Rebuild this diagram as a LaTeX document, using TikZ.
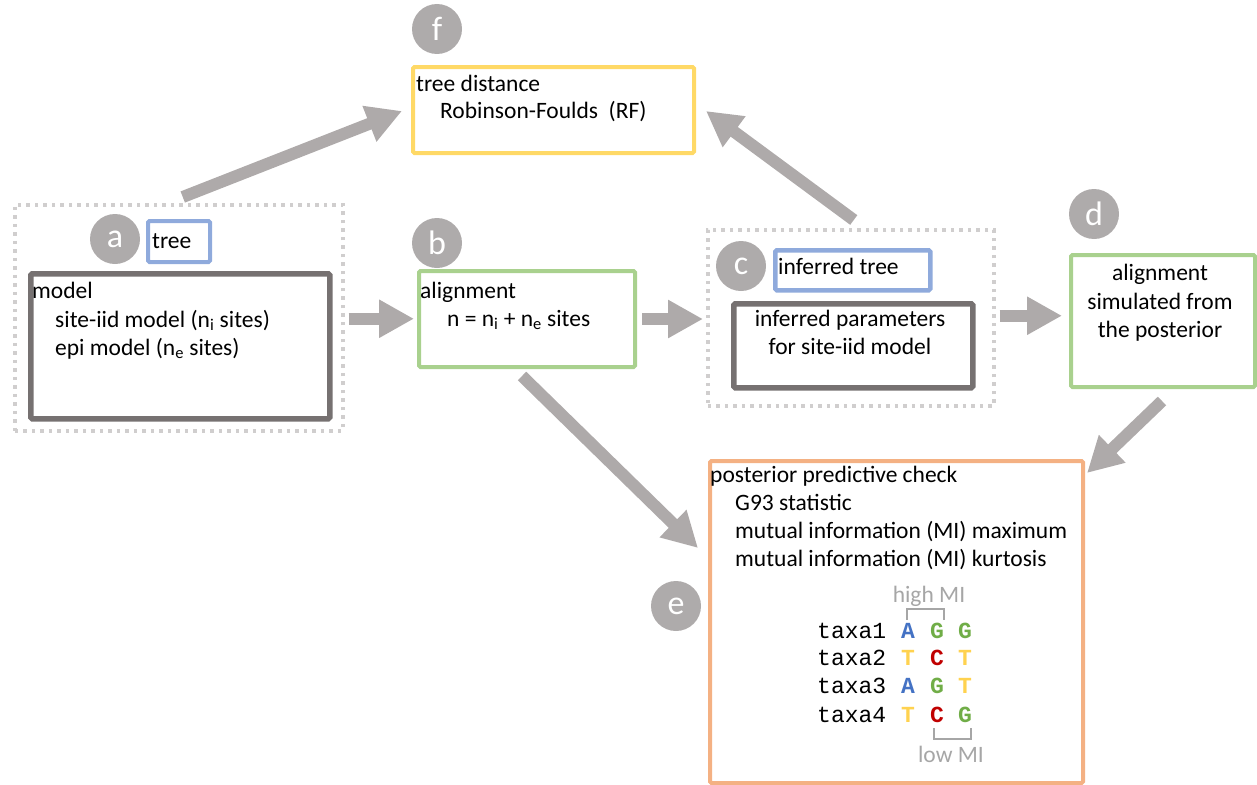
\documentclass[tikz,border=0pt]{standalone}
\usepackage{fontspec}
\setmainfont{Carlito}
\newfontfamily\monofam{Liberation Mono}
\usetikzlibrary{arrows.meta}
\definecolor{arrowgray}{HTML}{AEAAAA}
\definecolor{circgray}{HTML}{AEABAB}
\definecolor{yelbox}{HTML}{FFD966}
\definecolor{bluebox}{HTML}{8FAADC}
\definecolor{greenbox}{HTML}{A9D18E}
\definecolor{darkbox}{HTML}{767171}
\definecolor{orangebox}{HTML}{F4B183}
\definecolor{dotgray}{HTML}{D0CECE}
\definecolor{labgray}{HTML}{A6A6A6}
\definecolor{nucA}{HTML}{4472C4}
\definecolor{nucG}{HTML}{70AD47}
\definecolor{nucT}{HTML}{FFD24F}
\definecolor{nucC}{HTML}{C00000}
\tikzset{
  box/.style={draw, rectangle, rounded corners=1.5pt, inner sep=0pt, anchor=north west},
  dotbox/.style={draw=dotgray, line width=3.5pt, dash pattern=on 3.5pt off 5pt, rectangle, inner sep=0pt, anchor=north west},
  txt/.style={inner sep=0pt, font=\fontsize{23.5}{28}\selectfont},
  ctxt/.style={inner sep=0pt, font=\fontsize{23.5}{28.5}\selectfont, align=center},
  mono/.style={inner sep=0pt, font=\fontsize{23}{28}\selectfont\monofam},
  nuc/.style={inner sep=0pt, font=\fontsize{23}{28}\selectfont\monofam\bfseries, anchor=base},
  lab/.style={circle, fill=circgray, minimum size=50pt, inner sep=0pt, text=white, font=\fontsize{34}{34}\selectfont},
  bigarrow/.style={draw=arrowgray, line width=12pt, -{Triangle[length=35pt,width=36pt]}},
  bracket/.style={draw=labgray, line width=1.3pt}
}
\begin{document}
\begin{tikzpicture}[x=1pt,y=-1pt]
\useasboundingbox (0,0) rectangle (1257,784);

% boxes
\node[box, draw=yelbox, line width=4pt, minimum width=281pt, minimum height=86pt] (tdist) at (411,65) {};
\node[dotbox, minimum width=328pt, minimum height=226pt] (abox) at (13,203) {};
\node[box, draw=bluebox, line width=4pt, minimum width=62pt, minimum height=41pt] (atree) at (146,219) {};
\node[box, draw=darkbox, line width=5.5pt, minimum width=299pt, minimum height=145pt] (model) at (28,271) {};
\node[box, draw=greenbox, line width=4pt, minimum width=216pt, minimum height=96pt] (align) at (417,269) {};
\node[dotbox, minimum width=286pt, minimum height=176pt] (cbox) at (706,228) {};
\node[box, draw=bluebox, line width=4.5pt, minimum width=155pt, minimum height=40pt] (ctree) at (773,248) {};
\node[box, draw=darkbox, line width=5.5pt, minimum width=239pt, minimum height=84pt] (params) at (731,301) {};
\node[box, draw=greenbox, line width=4pt, minimum width=184pt, minimum height=132pt] (dbox) at (1069,253) {};
\node[box, draw=orangebox, line width=4pt, minimum width=373pt, minimum height=322pt] (ppc) at (708,459) {};

% circle labels
\node[lab] (lf) at (437,29) {f};
\node[lab] (la) at (115,239) {a};
\node[lab] (lb) at (437,243) {b};
\node[lab] (lc) at (741,266) {c};
\node[lab] (ld) at (1094,214) {d};
\node[lab] (le) at (676,606) {e};

% texts
\node[txt, anchor=base west] (t1) at (416,91) {tree distance};
\node[txt, anchor=base west] (t2) at (440,118) {Robinson-Foulds\ \ (RF)};
\node[txt, anchor=base west] (t3) at (152,248) {tree};
\node[txt, anchor=base west] (t4) at (32,298) {model};
\node[txt, anchor=base west] (t5) at (55,327) {site-iid model (n\textsubscript{i} sites)};
\node[txt, anchor=base west] (t6) at (55,355) {epi model (n\textsubscript{e} sites)};
\node[txt, anchor=base west] (t7) at (420,298) {alignment};
\node[txt, anchor=base west] (t8) at (447,326) {n = n\textsubscript{i} + n\textsubscript{e} sites};
\node[txt, anchor=base west] (t9) at (778,274) {inferred tree};
\node[txt, anchor=base] (t10) at (850,326) {inferred parameters};
\node[txt, anchor=base] (t11) at (850,354) {for site-iid model};
\node[txt, anchor=base] (t12) at (1160,280) {alignment};
\node[txt, anchor=base] (t13) at (1160,309) {simulated from};
\node[txt, anchor=base] (t14) at (1160,337) {the posterior};
\node[txt, anchor=base west] (t15) at (710,482) {posterior predictive check};
\node[txt, anchor=base west] (t16) at (735,510) {G93 statistic};
\node[txt, anchor=base west] (t17) at (735,538) {mutual information (MI) maximum};
\node[txt, anchor=base west] (t18) at (735,566) {mutual information (MI) kurtosis};

% alignment example
\node[txt, anchor=base, text=labgray] (hmi) at (929,602) {high MI};
\node[txt, anchor=base, text=labgray] (lmi) at (951,762) {low MI};
\node[mono, anchor=base west] (x1) at (817,638) {taxa1};
\node[mono, anchor=base west] (x2) at (817,665) {taxa2};
\node[mono, anchor=base west] (x3) at (817,693) {taxa3};
\node[mono, anchor=base west] (x4) at (817,722) {taxa4};
\node[nuc, text=nucA] (n11) at (908,638) {A};
\node[nuc, text=nucG] (n12) at (937,638) {G};
\node[nuc, text=nucG] (n13) at (965,638) {G};
\node[nuc, text=nucT] (n21) at (908,665) {T};
\node[nuc, text=nucC] (n22) at (937,665) {C};
\node[nuc, text=nucT] (n23) at (965,665) {T};
\node[nuc, text=nucA] (n31) at (908,693) {A};
\node[nuc, text=nucG] (n32) at (937,693) {G};
\node[nuc, text=nucT] (n33) at (965,693) {T};
\node[nuc, text=nucT] (n41) at (908,722) {T};
\node[nuc, text=nucC] (n42) at (937,722) {C};
\node[nuc, text=nucG] (n43) at (965,722) {G};
\coordinate (hb1) at (907,620);
\coordinate (hb2) at (944,620);
\coordinate (lb1) at (934,728);
\coordinate (lb2) at (971,728);
\draw[bracket] (hb1) -- ++(0,-11) -| (hb2);
\draw[bracket] (lb1) -- ++(0,11) -| (lb2);

% arrows
\draw[bigarrow] ([shift={(4,-6)}]abox.north) -- ([shift={(-9,-44)}]tdist.south west);
\draw[bigarrow] ([shift={(3,-8)}]cbox.north) -- ([shift={(10,-44)}]tdist.south east);
\draw[bigarrow, shorten <=4pt, shorten >=3pt] ([yshift=-1]abox.east) -- ([yshift=-1]abox.east -| align.west);
\draw[bigarrow, shorten <=5pt, shorten >=3pt] (align.east) -- (align.east -| cbox.west);
\draw[bigarrow, shorten <=4pt, shorten >=7pt] ([yshift=2]cbox.east) -- ([yshift=2]cbox.east -| dbox.west);
\draw[bigarrow] ([shift={(-5,7)}]align.south) -- ([shift={(-10,89)}]ppc.north west);
\draw[bigarrow] ([shift={(-1,12)}]dbox.south) -- ([shift={(2,14)}]ppc.north east);
\end{tikzpicture}
\end{document}
